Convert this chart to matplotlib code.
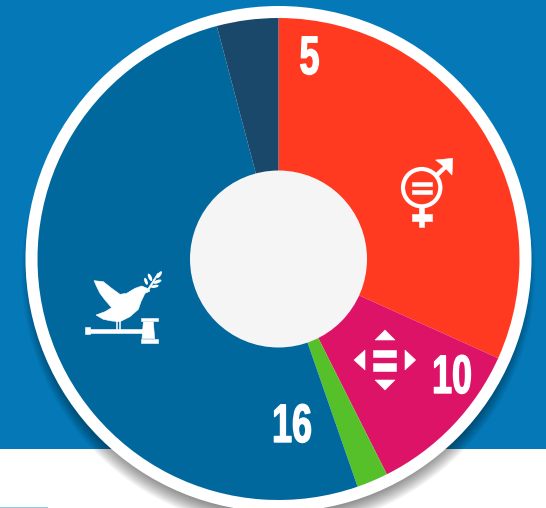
import matplotlib
matplotlib.use('Agg')
import matplotlib.pyplot as plt
from matplotlib.patches import Circle, Ellipse, Polygon, Rectangle
from matplotlib.patheffects import AbstractPathEffect
from matplotlib.transforms import Affine2D

W, H = 546, 508

# share of the ring per goal, clockwise from 12 o'clock
goals = ['5', '10', '13', '16', '17']
shares = [31.75, 10.83, 2.1, 51.2, 4.12]
colors = ['#FF3A21', '#DD1367', '#56C02B', '#00689D', '#19486A']
labels = ['5', '10', '16']
label_pos = [(309.5, 60), (452, 379), (292, 428)]

BG = '#0579B8'
CX, CY = 278.5, 259


def py(y):
    return H - y


class Condense(AbstractPathEffect):
    # no condensed bold installed, so squeeze the glyphs around the text centre
    def __init__(self, cx, sx, stroke):
        super().__init__()
        self.cx = cx
        self.sx = sx
        self.stroke = stroke

    def draw_path(self, renderer, gc, tpath, affine, rgbFace=None):
        squeeze = Affine2D().translate(-self.cx, 0).scale(self.sx, 1).translate(self.cx, 0)
        gc0 = renderer.new_gc()
        gc0.copy_properties(gc)
        gc0.set_foreground('white')
        gc0.set_linewidth(self.stroke)
        renderer.draw_path(gc0, tpath, affine + squeeze, rgbFace)
        gc0.restore()


def poly(ax, pts, x0=0, y0=0, s=1.0, z=6):
    ax.add_patch(Polygon([(x0 + x * s, py(y0 + y * s)) for x, y in pts],
                         closed=True, fc='white', ec='white', lw=0.4, zorder=z))


def box(ax, x1, y1, x2, y2, x0=0, y0=0, s=1.0):
    poly(ax, [(x1, y1), (x2, y1), (x2, y2), (x1, y2)], x0, y0, s)


def gender_icon(ax):
    x0, y0, s = 380, 150, 1 / 3
    ax.add_patch(Circle((x0 + 125 * s, py(y0 + 113 * s)), 56 * s, fc='none', ec='white',
                        lw=3.0, zorder=6))
    box(ax, 97, 97, 155, 108, x0, y0, s)
    box(ax, 97, 120, 155, 132, x0, y0, s)
    poly(ax, [(165, 72), (198, 42), (205, 50), (174, 80)], x0, y0, s)
    poly(ax, [(167, 30), (218, 25), (216, 75), (200, 58), (185, 44)], x0, y0, s)
    box(ax, 118, 172, 133, 230, x0, y0, s)
    box(ax, 97, 193, 155, 213, x0, y0, s)


def reduce_icon(ax):
    x0, y0, s = 340, 330, 1 / 3
    poly(ax, [(135, 0), (165, 30), (105, 30)], x0, y0, s)
    poly(ax, [(105, 150), (165, 150), (135, 180)], x0, y0, s)
    poly(ax, [(75, 60), (75, 120), (42, 90)], x0, y0, s)
    poly(ax, [(195, 60), (195, 120), (227, 90)], x0, y0, s)
    box(ax, 100, 60, 168, 80, x0, y0, s)
    box(ax, 100, 100, 168, 122, x0, y0, s)


def peace_icon(ax):
    x0, y0, s = 70, 260, 1 / 3
    poly(ax, [(72, 62), (100, 65), (125, 85), (150, 103), (170, 100), (195, 85), (215, 78),
              (232, 85), (240, 93), (225, 100), (213, 125), (205, 148), (180, 170), (160, 180),
              (150, 185), (125, 183), (100, 178), (78, 165), (105, 155), (125, 143), (105, 120),
              (90, 100), (80, 80)], x0, y0, s)
    box(ax, 137, 180, 142, 208, x0, y0, s)
    box(ax, 146, 180, 151, 208, x0, y0, s)
    # twig
    poly(ax, [(230, 92), (263, 40), (266, 42), (234, 95)], x0, y0, s)
    for x, y, w, h, a in [(268, 44, 10, 24, -35), (240, 52, 10, 24, 25), (262, 65, 10, 26, -70),
                          (254, 79, 9, 24, -80), (228, 64, 9, 22, 20)]:
        ax.add_patch(Ellipse((x0 + x * s, py(y0 + y * s)), w * s, h * s, angle=a, fc='white',
                             ec='none', zorder=6))
    # gavel
    box(ax, 46, 202, 60, 222, x0, y0, s)
    box(ax, 60, 207, 218, 219, x0, y0, s)
    poly(ax, [(220, 186), (250, 186), (254, 236), (216, 236)], x0, y0, s)
    box(ax, 212, 175, 263, 184, x0, y0, s)
    box(ax, 212, 238, 263, 249, x0, y0, s)


fig = plt.figure(figsize=(W / 100, H / 100), dpi=100)
ax = fig.add_axes([0, 0, 1, 1])

wedges, _ = ax.pie(shares, colors=colors, startangle=90, counterclock=False,
                   center=(CX, py(CY)), radius=241, frame=True,
                   wedgeprops={'linewidth': 0, 'zorder': 3})
ax.set_xlim(0, W)
ax.set_ylim(0, H)
ax.set_aspect('equal')
ax.axis('off')

# page behind the chart
ax.add_patch(Rectangle((0, py(449)), W, 449, fc=BG, ec='none', zorder=0))
ax.add_patch(Rectangle((0, 0), 48, 1.5, fc='#8CCBEA', ec='none', zorder=0))

# soft drop shadow under the ring, pushed down so only the lower half shows
for i in range(20):
    ax.add_patch(Circle((CX, py(CY + 13)), 257 - i, fc='black', ec='none', alpha=0.03,
                        zorder=1))

ax.add_patch(Circle((CX, py(CY)), 253, fc='white', ec='none', zorder=2))
ax.add_patch(Circle((CX, py(CY)), 88.5, fc='#F5F5F5', ec='none', zorder=5))

gender_icon(ax)
reduce_icon(ax)
peace_icon(ax)

for t, (x, y) in zip(labels, label_pos):
    ax.text(x, py(y), t, color='white', fontsize=39, fontweight='bold', ha='center', va='center',
            family='Liberation Sans', zorder=6, path_effects=[Condense(x, 0.66, 1.0)])

fig.savefig('out.png', dpi=100)
